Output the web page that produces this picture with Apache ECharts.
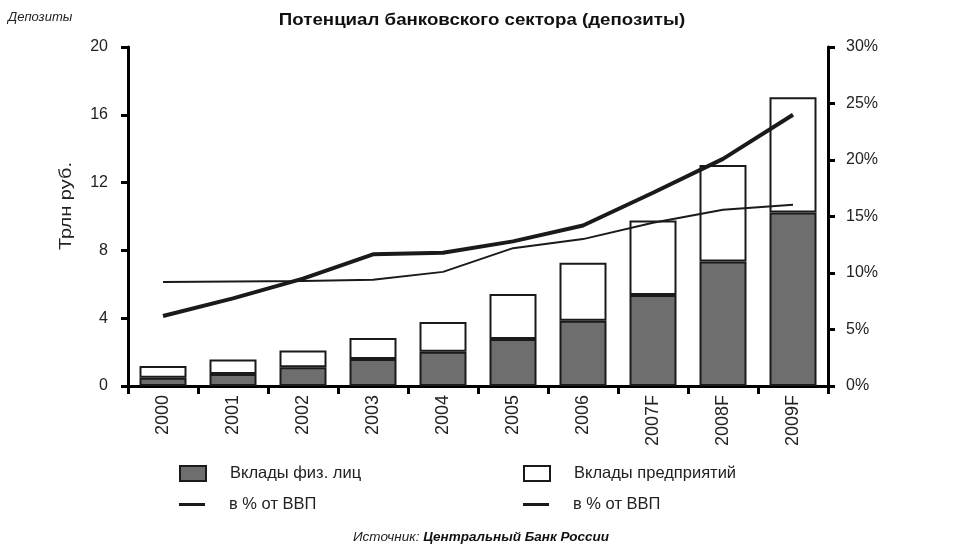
<!DOCTYPE html>
<html><head><meta charset="utf-8">
<script src="https://cdn.jsdelivr.net/npm/echarts@6/dist/echarts.min.js"></script>
<style>html,body{margin:0;padding:0;background:#fff}#c{width:955px;height:548px}</style>
</head><body><div id="c"></div>
<script>
const categories = ['2000','2001','2002','2003','2004','2005','2006','2007F','2008F','2009F'];
const individualDeposits = [0.49, 0.71, 1.1, 1.59, 2.02, 2.77, 3.85, 5.37, 7.34, 10.23];
const corporateDeposits = [0.69, 0.86, 1.0, 1.24, 1.76, 2.66, 3.42, 4.4, 5.7, 6.8];
const individualPctGDP = [6.2, 7.75, 9.5, 11.65, 11.8, 12.8, 14.2, 17.1, 20.1, 24.0];
const corporatePctGDP = [9.2, 9.25, 9.3, 9.4, 10.1, 12.2, 13.0, 14.45, 15.6, 16.05];
const leftTicks = [0, 20, 4];
const rightTicks = [0, 30, 5];

const FONT = 'Liberation Sans, Arial, sans-serif';
const INK = '#1a1a1a';
const chart = echarts.init(document.getElementById('c'), null, {renderer: 'canvas'});
const legendBase = (name, left, top, icon, h) => ({
  data: [name], left: left, top: top, icon: icon, itemWidth: 26, itemHeight: h, itemGap: 0,
  textStyle: {fontFamily: FONT, fontSize: 16.5, color: '#222', padding: [0, 0, 0, 19]},
  selectedMode: false
});
chart.setOption({
  animation: false,
  backgroundColor: '#fff',
  textStyle: {fontFamily: FONT},
  grid: {left: 128, right: 127, top: 47, bottom: 162},
  legend: [
    legendBase('Вклады физ. лиц', 174, 460, 'rect', 15),
    legendBase('Вклады предприятий', 518, 460, 'rect', 15),
    legendBase('в % от ВВП ', 174, 491, 'rect', 3),
    legendBase('в % от ВВП', 518, 491, 'rect', 3)
  ],
  graphic: [
    {type: 'text', x: 482, y: 20, scaleX: 1.1, style: {
      text: 'Потенциал банковского сектора (депозиты)', font: 'bold 17px ' + FONT, fill: '#111',
      align: 'center', verticalAlign: 'middle'}},
    {type: 'text', left: 8, top: 11, style: {text: 'Депозиты', font: 'italic 13px ' + FONT, fill: '#222'}},
    {type: 'text', x: 67, y: 206, rotation: Math.PI / 2, scaleX: 1.25, style: {
      text: 'Трлн руб.', font: '16px ' + FONT, fill: '#222', align: 'center', verticalAlign: 'middle'}},
    {type: 'text', x: 481, y: 537, style: {
      text: '{a|Источник: }{b|Центральный Банк России}', align: 'center', verticalAlign: 'middle',
      rich: {a: {font: 'italic 13.5px ' + FONT, fill: '#222'}, b: {font: 'italic bold 13.5px ' + FONT, fill: '#111'}}
    }}
  ],
  xAxis: {
    type: 'category', data: categories, boundaryGap: true,
    axisLine: {lineStyle: {color: '#000', width: 3}},
    axisTick: {show: true, length: 8, lineStyle: {color: '#000', width: 3}, alignWithLabel: false},
    axisLabel: {rotate: 90, margin: 9, fontSize: 18, color: '#222', fontFamily: FONT, interval: 0}
  },
  yAxis: [
    {
      type: 'value', min: leftTicks[0], max: leftTicks[1], interval: leftTicks[2], position: 'left',
      axisLine: {show: true, lineStyle: {color: '#000', width: 3}},
      axisTick: {show: true, length: 7, lineStyle: {color: '#000', width: 3}},
      axisLabel: {margin: 20, fontSize: 16, color: '#222', fontFamily: FONT},
      splitLine: {show: false}
    },
    {
      type: 'value', min: rightTicks[0], max: rightTicks[1], interval: rightTicks[2], position: 'right',
      axisLine: {show: true, lineStyle: {color: '#000', width: 3}},
      axisTick: {show: true, length: 7, lineStyle: {color: '#000', width: 3}},
      axisLabel: {margin: 18, fontSize: 16, color: '#222', fontFamily: FONT, formatter: '{value}%'},
      splitLine: {show: false}
    }
  ],
  series: [
    {
      name: 'Вклады физ. лиц', type: 'bar', stack: 'dep', data: individualDeposits, barWidth: 47,
      itemStyle: {color: '#6e6e6e', borderColor: INK, borderWidth: 2}
    },
    {
      name: 'Вклады предприятий', type: 'bar', stack: 'dep', data: corporateDeposits, barWidth: 47,
      itemStyle: {color: '#fff', borderColor: INK, borderWidth: 2}
    },
    {
      name: 'в % от ВВП ', type: 'line', yAxisIndex: 1, data: individualPctGDP,
      showSymbol: false, symbol: 'none', lineStyle: {color: INK, width: 4}, itemStyle: {color: INK}
    },
    {
      name: 'в % от ВВП', type: 'line', yAxisIndex: 1, data: corporatePctGDP,
      showSymbol: false, symbol: 'none', lineStyle: {color: INK, width: 2}, itemStyle: {color: INK}
    }
  ]
});
</script></body></html>
